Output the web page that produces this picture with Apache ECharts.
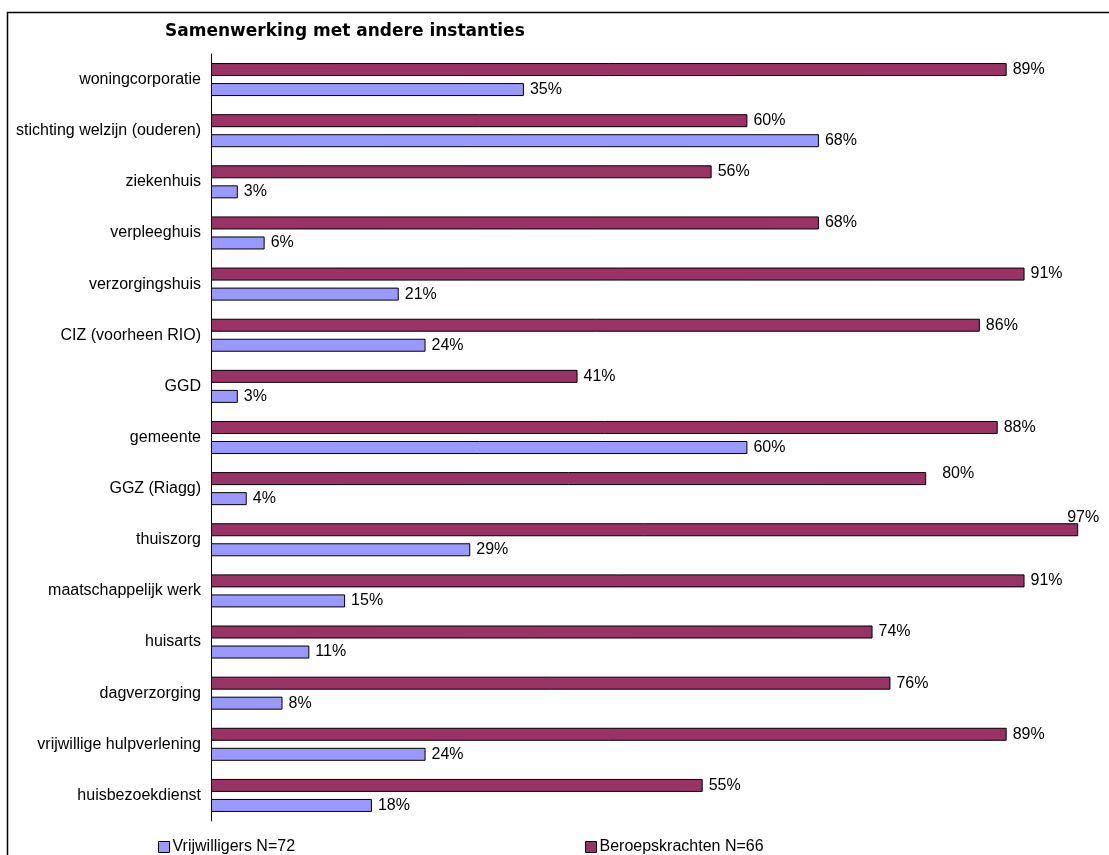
<!DOCTYPE html>
<html lang="nl">
<head>
    <meta charset="UTF-8">
    <title>Samenwerking met andere instanties</title>
    <script src="https://cdn.jsdelivr.net/npm/echarts@6/dist/echarts.min.js"></script>
    <style>
        html, body { margin: 0; padding: 0; background: #fff; }
        #chart { width: 1109px; height: 855px; }
    </style>
</head>
<body>
    <div id="chart"></div>

    <script>
        // categorieën, van boven naar beneden
        const categories = [
            'woningcorporatie',
            'stichting welzijn (ouderen)',
            'ziekenhuis',
            'verpleeghuis',
            'verzorgingshuis',
            'CIZ (voorheen RIO)',
            'GGD',
            'gemeente',
            'GGZ (Riagg)',
            'thuiszorg',
            'maatschappelijk werk',
            'huisarts',
            'dagverzorging',
            'vrijwillige hulpverlening',
            'huisbezoekdienst'
        ];

        const beroepskrachten = [89, 60, 56, 68, 91, 86, 41, 88, 80, 97, 91, 74, 76, 89, 55];
        const vrijwilligers = [35, 68, 3, 6, 21, 24, 3, 60, 4, 29, 15, 11, 8, 24, 18];

        const FONT = '"Liberation Sans", Arial, sans-serif';

        const chart = echarts.init(document.getElementById('chart'));

        const labelStyle = {
            show: true,
            position: 'right',
            distance: 6,
            formatter: '{c}%',
            color: '#000',
            fontFamily: FONT,
            fontSize: 16
        };

        // Excel schuift een paar labels op; hier nagebootst
        const beroepsData = beroepskrachten.map(v => {
            if (v >= 95) {
                return { value: v, label: { position: 'insideTopRight', offset: [27, -20] } };
            }
            if (v === 80) {
                return { value: v, label: { offset: [10, -5] } };
            }
            return v;
        });

        const legendBase = {
            icon: 'rect',
            top: 834,
            itemWidth: 11,
            itemHeight: 11,
            itemStyle: { borderColor: '#000', borderWidth: 1 },
            textStyle: { fontFamily: FONT, fontSize: 16, color: '#000', padding: [0, 0, 0, -2] }
        };

        const option = {
            animation: false,
            backgroundColor: '#fff',
            title: {
                text: 'Samenwerking met andere instanties',
                left: 160,
                top: 18,
                textStyle: { fontFamily: '"DejaVu Sans", sans-serif', fontSize: 17, fontWeight: 'bold', color: '#000' }
            },
            graphic: [{
                type: 'rect',
                shape: { x: 7.5, y: 12.5, width: 1200, height: 1000 },
                style: { fill: null, stroke: '#000', lineWidth: 1.5 },
                silent: true
            }],
            legend: [
                Object.assign({ data: ['Vrijwilligers N=72'], left: 153 }, legendBase),
                Object.assign({ data: ['Beroepskrachten N=66'], left: 580 }, legendBase)
            ],
            grid: { left: 211, right: 4, top: 54, bottom: 34, containLabel: false },
            xAxis: {
                type: 'value',
                min: 0,
                max: 100,
                show: false
            },
            yAxis: {
                type: 'category',
                data: categories,
                inverse: true,
                axisLine: { lineStyle: { color: '#000', width: 1 } },
                axisTick: { show: false },
                axisLabel: { color: '#000', fontFamily: FONT, fontSize: 16, margin: 10, padding: [5, 0, 0, 0] }
            },
            series: [{
                name: 'Beroepskrachten N=66',
                type: 'bar',
                data: beroepsData,
                barWidth: 13,
                barGap: '54%',
                itemStyle: { color: '#993366', borderColor: '#000', borderWidth: 1 },
                label: labelStyle
            }, {
                name: 'Vrijwilligers N=72',
                type: 'bar',
                data: vrijwilligers,
                barWidth: 13,
                barGap: '54%',
                itemStyle: { color: '#9999FF', borderColor: '#000', borderWidth: 1 },
                label: labelStyle
            }]
        };

        chart.setOption(option);
    </script>
</body>
</html>
